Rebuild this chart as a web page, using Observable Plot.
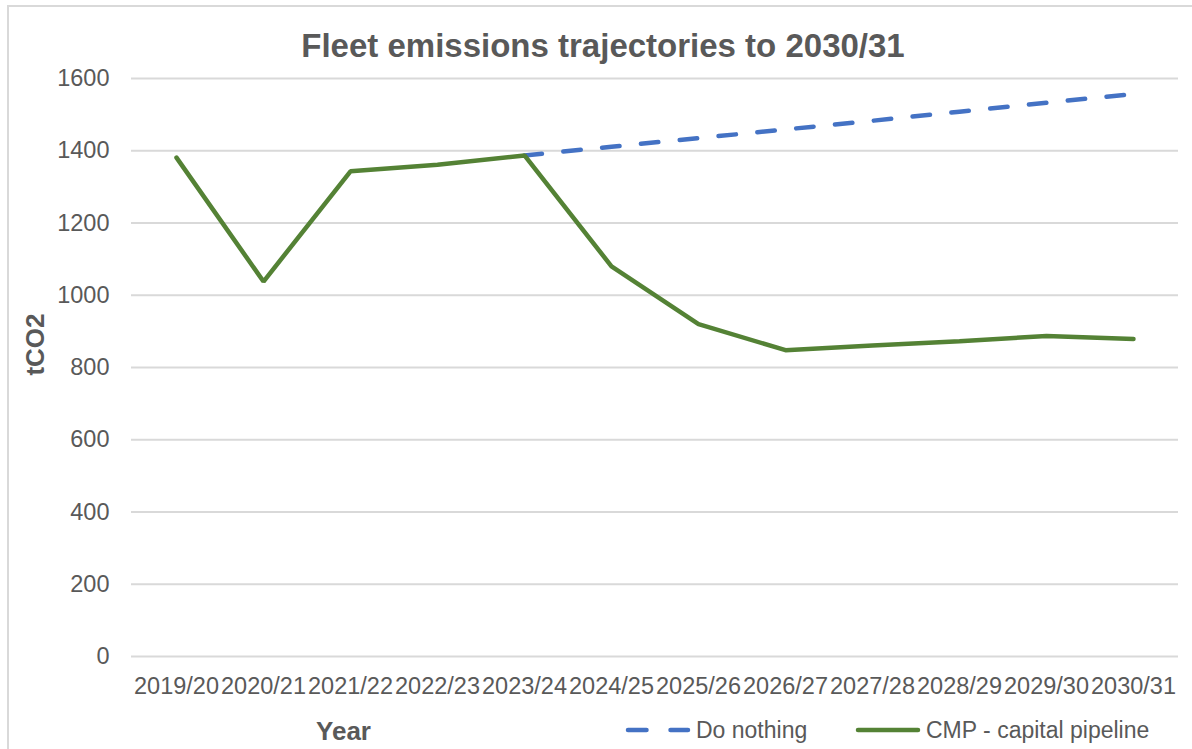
<!DOCTYPE html>
<html>
<head>
<meta charset="utf-8">
<script src="https://cdn.jsdelivr.net/npm/d3@7"></script>
<script src="https://cdn.jsdelivr.net/npm/@observablehq/plot@0.6"></script>
<style>
  html, body { margin: 0; padding: 0; background: #fff; }
  #wrap { position: relative; width: 1192px; height: 749px; overflow: hidden; font-family: "Liberation Sans", Arial, sans-serif; }
  #border { position: absolute; left: 7px; top: 5px; width: 1300px; height: 900px; border-left: 2px solid #d9d9d9; border-top: 2px solid #d9d9d9; }
  #chart { position: absolute; left: 0; top: 0; }
  #legend { position: absolute; left: 0; top: 714px; width: 1192px; height: 32px; }
  .item { position: absolute; top: 0; display: flex; align-items: center; height: 32px; font-size: 23px; color: #595959; }
  .item svg { margin-right: 5px; }
</style>
</head>
<body>
<div id="wrap">
  <div id="border"></div>
  <div id="chart"></div>
  <div id="legend"></div>
</div>
<script>
const years = ["2019/20","2020/21","2021/22","2022/23","2023/24","2024/25","2025/26","2026/27","2027/28","2028/29","2029/30","2030/31"];
const cmpValues = [1381, 1038, 1343, 1361, 1387, 1080, 920, 848, 861, 873, 887, 879];
const doNothingYears = ["2023/24","2024/25","2025/26","2026/27","2027/28","2028/29","2029/30","2030/31"];
const doNothingValues = [1387, 1411, 1435, 1459, 1483, 1508, 1533, 1557];
const yTicks = [0, 200, 400, 600, 800, 1000, 1200, 1400, 1600];
const seriesNames = ["Do nothing", "CMP - capital pipeline"];
const seriesColors = ["#4472C4", "#548235"];
const title = "Fleet emissions trajectories to 2030/31";
const xTitle = "Year";
const yTitle = "tCO2";

const cmpData = years.map((y, i) => ({year: y, value: cmpValues[i]}));
const dnData = doNothingYears.map((y, i) => ({year: y, value: doNothingValues[i]}));

const chart = Plot.plot({
  width: 1192,
  height: 749,
  marginLeft: 131,
  marginRight: 14,
  marginTop: 78,
  marginBottom: 93,
  style: {fontFamily: "'Liberation Sans', Arial, sans-serif", color: "#595959", background: "transparent", overflow: "visible"},
  x: {type: "point", domain: years, padding: 0.5},
  y: {domain: [0, 1600]},
  marks: [
    Plot.gridY(yTicks, {stroke: "#d9d9d9", strokeOpacity: 1, strokeWidth: 1.8}),
    Plot.axisY(yTicks, {tickSize: 0, tickPadding: 22, fontSize: 23.5, label: null, fill: "#595959", tickFormat: d => String(d)}),
    Plot.axisX({tickSize: 0, tickPadding: 21, fontSize: 23.5, label: null, fill: "#595959"}),
    Plot.line(dnData, {x: "year", y: "value", stroke: seriesColors[0], strokeWidth: 4.5, strokeDasharray: "17.5,21.5", strokeLinecap: "round"}),
    Plot.line(cmpData, {x: "year", y: "value", stroke: seriesColors[1], strokeWidth: 4.5, strokeLinejoin: "miter"}),
    Plot.text([title], {frameAnchor: "top", text: d => d, dx: -52, dy: -32, fontSize: 33, fontWeight: "bold", fill: "#595959", lineAnchor: "middle"}),
    Plot.text([xTitle], {frameAnchor: "bottom-left", text: d => d, textAnchor: "middle", dx: 212, dy: 75, fontSize: 26, fontWeight: "bold", fill: "#595959", lineAnchor: "middle"}),
    Plot.text([yTitle], {frameAnchor: "left", text: d => d, textAnchor: "middle", rotate: -90, dx: -96, dy: -23, fontSize: 26, fontWeight: "bold", fill: "#595959", lineAnchor: "middle"})
  ]
});
document.getElementById("chart").appendChild(chart);

// Legend
const legend = document.getElementById("legend");
const legendLefts = [625, 855];
seriesNames.forEach((name, i) => {
  const item = document.createElement("div");
  item.className = "item";
  item.style.left = legendLefts[i] + "px";
  const dash = i === 0 ? 'stroke-dasharray="18.5,24" ' : '';
  item.innerHTML = `<svg width="66" height="10"><line x1="3" y1="5" x2="63" y2="5" stroke="${seriesColors[i]}" stroke-width="4.5" stroke-linecap="round" ${dash}/></svg><span>${name}</span>`;
  legend.appendChild(item);
});
</script>
</body>
</html>
